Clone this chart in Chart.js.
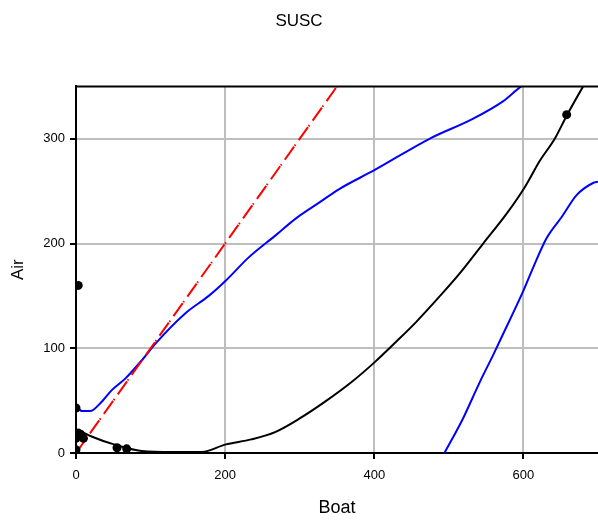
<!DOCTYPE html>
<html lang="en">
<head>
  <meta charset="UTF-8">
  <title>SUSC</title>
  <script src="https://cdn.jsdelivr.net/npm/chart.js"></script>
  <style>
    html, body { margin: 0; padding: 0; background: #fff; }
    #wrap { width: 598px; height: 522px; }
  </style>
</head>
<body>
  <div id="wrap"><canvas id="chart" width="598" height="522"></canvas></div>
  <script>
    // observed points
    const obsX = [0, 0, 3, 6, 10, 0, 3, 55, 68, 658];
    const obsY = [3, 14, 19, 18, 14, 43, 160, 5, 4, 323];

    // fitted curve (black)
    const fitX = [3, 20, 52, 88, 130, 169, 200, 235, 267, 300, 334, 370, 401, 429, 456, 487, 514, 546, 577, 602, 622, 642, 658, 680, 690];
    const fitY = [22, 16, 8, 2, 1, 1, 8, 13, 20, 33, 49, 68, 87, 106, 125, 149, 171, 200, 228, 254, 279, 300, 322, 350, 362];

    // upper band (blue)
    const upX = [0, 8, 19, 32, 48, 66, 90, 106, 146, 178, 200, 232, 268, 295, 326, 353, 400, 474, 532, 573, 597, 610];
    const upY = [45, 40, 40, 47, 60, 71, 90, 104, 133, 150, 164, 187, 208, 224, 239, 252, 270, 300, 319, 336, 350, 355];

    // lower band (blue)
    const lowX = [494, 519, 532, 541, 559, 571, 600, 613, 631, 652, 671, 694, 700];
    const lowY = [0, 33, 53, 67, 93, 111, 155, 177, 205, 226, 246, 258, 259];

    // 1:1 line
    const refX = [0, 360];
    const refY = [0, 360];

    const xTicks = [0, 200, 400, 600];
    const yTicks = [0, 100, 200, 300];

    const pts = (xs, ys) => xs.map((x, i) => ({ x: x, y: ys[i] }));

    const topBorder = {
      id: 'topBorder',
      afterDraw(chart) {
        const { ctx, chartArea } = chart;
        ctx.save();
        ctx.strokeStyle = '#000';
        ctx.lineWidth = 2;
        ctx.beginPath();
        ctx.moveTo(chartArea.left - 1, chartArea.top);
        ctx.lineTo(chartArea.right, chartArea.top);
        ctx.stroke();
        ctx.restore();
      }
    };

    const font = 'Liberation Sans, Arial, sans-serif';

    const curve = (xs, ys, color) => ({
      data: pts(xs, ys),
      showLine: true,
      borderColor: color,
      borderWidth: 2,
      pointRadius: 0,
      cubicInterpolationMode: 'monotone'
    });

    new Chart(document.getElementById('chart'), {
      type: 'scatter',
      data: {
        datasets: [
          {
            data: pts(obsX, obsY),
            showLine: false,
            pointRadius: 4.5,
            pointBackgroundColor: '#000',
            pointBorderColor: '#000',
            pointBorderWidth: 0
          },
          {
            data: pts(refX, refY),
            showLine: true,
            borderColor: '#ff0000',
            borderWidth: 2,
            borderDash: [16, 1, 1.5, 5.5],
            pointRadius: 0
          },
          curve(fitX, fitY, '#000'),
          curve(upX, upY, '#0000ff'),
          curve(lowX, lowY, '#0000ff')
        ]
      },
      options: {
        responsive: false,
        animation: false,
        layout: { padding: 0, autoPadding: false },
        plugins: {
          legend: { display: false },
          tooltip: { enabled: false },
          title: {
            display: true,
            text: 'SUSC',
            color: '#000',
            font: { family: font, size: 17, weight: 'normal' },
            padding: { top: 11, bottom: 55 }
          }
        },
        scales: {
          x: {
            type: 'linear',
            min: 0,
            max: 700,
            afterFit(scale) {
              scale.height = 69;
              scale.paddingLeft = 0;
              scale.paddingRight = 0;
            },
            afterBuildTicks(scale) { scale.ticks = xTicks.map(v => ({ value: v })); },
            ticks: {
              color: '#000',
              padding: 9,
              font: { family: font, size: 13 }
            },
            grid: {
              color: '#bebebe',
              lineWidth: 2,
              tickColor: '#000',
              tickLength: 6,
              tickWidth: 2
            },
            border: { color: '#000', width: 2 },
            title: {
              display: true,
              text: 'Boat',
              color: '#000',
              font: { family: font, size: 18 },
              padding: { top: 0, bottom: 3 }
            }
          },
          y: {
            type: 'linear',
            min: 0,
            max: 350,
            afterFit(scale) { scale.width = 76; },
            afterBuildTicks(scale) { scale.ticks = yTicks.map(v => ({ value: v })); },
            ticks: {
              color: '#000',
              padding: 5,
              font: { family: font, size: 13 }
            },
            grid: {
              color: '#bebebe',
              lineWidth: 2,
              tickColor: '#000',
              tickLength: 6,
              tickWidth: 2
            },
            border: { color: '#000', width: 2 },
            title: {
              display: true,
              text: 'Air',
              color: '#000',
              font: { family: font, size: 17 },
              padding: { top: 8, bottom: 0 }
            }
          }
        }
      },
      plugins: [topBorder]
    });
  </script>
</body>
</html>
